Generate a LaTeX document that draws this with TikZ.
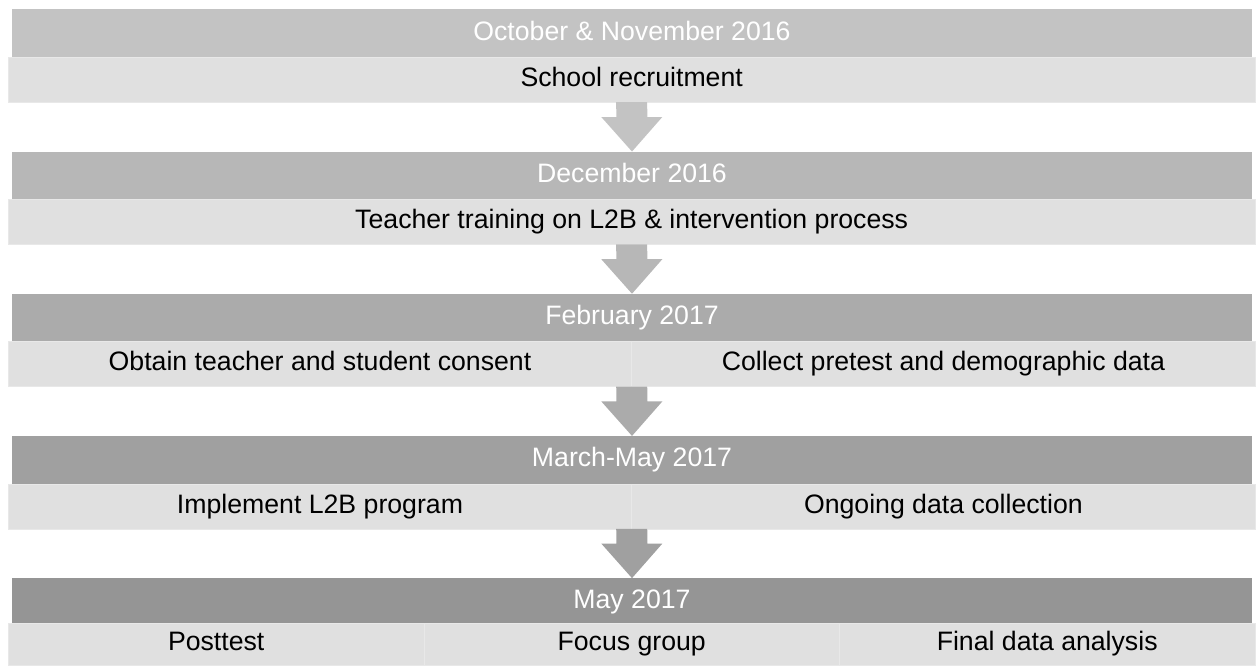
\documentclass[tikz,border=0pt]{standalone}
\usepackage{fontspec}
\setmainfont{Liberation Sans}
\usetikzlibrary{calc}

\definecolor{cellgray}{HTML}{E0E0E0}
\definecolor{hdA}{HTML}{C3C3C3}
\definecolor{hdB}{HTML}{B7B7B7}
\definecolor{hdC}{HTML}{ABABAB}
\definecolor{hdD}{HTML}{A0A0A0}
\definecolor{hdE}{HTML}{959595}

% block arrow: from (#1) down to (#2), filled with #3
\newcommand\flowarrow[3]{%
    \fill[#3] ($(#1)+(-15.5,0)$) -- ($(#1)+(15.5,0)$)
        -- ($(#1)!0.3!(#2)+(15.5,0)$) -- ($(#1)!0.3!(#2)+(30.5,0)$)
        -- (#2) -- ($(#1)!0.3!(#2)+(-30.5,0)$)
        -- ($(#1)!0.3!(#2)+(-15.5,0)$) -- cycle;
}

\begin{document}
\begin{tikzpicture}[x=0.75pt,y=-0.75pt,
    header/.style={fill=#1, text=white, inner sep=0pt, outer sep=0pt,
        minimum width=930pt, minimum height=35.8pt,
        text height=14.4pt, text depth=4.2pt,
        font=\fontsize{20}{24}\selectfont},
    cell/.style={fill=cellgray, draw=white!25!cellgray, line width=0.4pt,
        inner sep=0pt, outer sep=0pt, minimum height=33.8pt,
        text height=14.4pt, text depth=4.2pt,
        minimum width=#1, font=\fontsize{20}{24}\selectfont},
    cell/.default=935.2pt]
    \useasboundingbox (0,0) rectangle (1259,665);

    % Period headers
    \foreach \i/\txt/\col in {1/October \& November 2016/hdA,
                              2/December 2016/hdB,
                              3/February 2017/hdC,
                              4/March-May 2017/hdD,
                              5/May 2017/hdE} {
        \node[header=\col] (h\i) at (632,{33.2+142.2*(\i-1)}) {\txt};
    }

    % Activities under each header
    \node[cell] (recruit)  at (631.7,79.7)  {School recruitment};
    \node[cell] (training) at (631.7,221.9) {Teacher training on L2B \& intervention process};

    \node[cell=467.6pt] (consent) at (320,364.1)   {Obtain teacher and student consent};
    \node[cell=467.6pt] (pretest) at (943.4,364.1) {Collect pretest and demographic data};

    \node[cell=467.6pt] (implement) at (320,506.3)   {Implement L2B program};
    \node[cell=467.6pt] (ongoing)   at (943.4,506.3) {Ongoing data collection};

    \node[cell=311.8pt, minimum height=31.5pt] (posttest) at (216.2,644)  {Posttest};
    \node[cell=311.8pt, minimum height=31.5pt] (focus)    at (631.7,644)  {Focus group};
    \node[cell=311.8pt, minimum height=31.5pt] (analysis) at (1047.2,644) {Final data analysis};

    % Arrows between stages
    \flowarrow{recruit.south}{h2.north}{hdA}
    \flowarrow{training.south}{h3.north}{hdB}
    \flowarrow{consent.south east}{h4.north}{hdC}
    \flowarrow{implement.south east}{h5.north}{hdD}
\end{tikzpicture}
\end{document}
